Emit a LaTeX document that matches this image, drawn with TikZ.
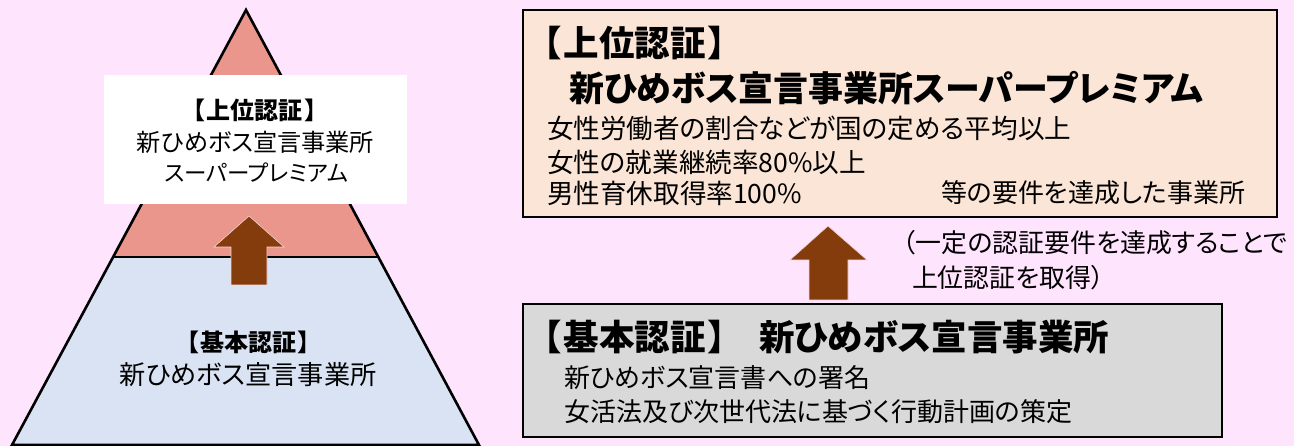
\documentclass[tikz,border=0pt]{standalone}
\usepackage{fontspec}
\setmainfont{Noto Sans CJK JP}[RawFeature=+palt]
\definecolor{bgpink}{HTML}{FFE4FE}
\definecolor{pyrtop}{HTML}{EB968C}
\definecolor{pyrbot}{HTML}{DAE3F3}
\definecolor{peach}{HTML}{FBE5D6}
\definecolor{greybox}{HTML}{D9D9D9}
\definecolor{brownarrow}{HTML}{843C0C}
\newcommand{\fsz}[1]{\fontsize{#1}{#1}\selectfont}
\newcommand{\brk}[2]{【\kern#1pt#2\kern#1pt】}
\begin{document}
\begin{tikzpicture}[x=1pt,y=-1pt,
  boxstyle/.style={draw=black,line width=2.6pt,inner sep=0pt,outer sep=0pt},
  txt/.style={inner sep=0pt,outer sep=0pt,anchor=west,text=black},
  blockarrow/.style={fill=brownarrow,draw=pyrtop!40,line width=0.6pt},
  pyrline/.style={draw=black,line width=2.6pt,line join=miter}]
\useasboundingbox (0,0) rectangle (1294,446);
\fill[bgpink] (0,0) rectangle (1294,446);

% pyramid
\coordinate (apex) at (246,10);
\coordinate (bl) at (12,445);
\coordinate (br) at (479,445);
\coordinate (ml) at (113,257);
\coordinate (mr) at (378.5,257);
\fill[pyrtop] (apex) -- (mr) -- (ml) -- cycle;
\fill[pyrbot] (ml) -- (mr) -- (br) -- (bl) -- cycle;
\draw[pyrline] (apex) -- (br) -- (bl) -- cycle;
\draw[pyrline] (ml) -- (mr);

% white label box on pyramid
\node[fill=white,inner sep=0pt,minimum width=303pt,minimum height=129pt] (wbox) at (255.5,139.5) {};
\node[txt,anchor=center,font=\fsz{24}\bfseries] (wt1) at (255,110) {\brk{2}{上位認証}};
\node[txt,anchor=center,font=\fsz{24.2}] (wt2) at (255.5,142) {新ひめボス宣言事業所};
\node[txt,anchor=center,font=\fsz{22.5}] (wt3) at (256,173) {スーパープレミアム};

% pyramid base text
\node[txt,anchor=center,font=\fsz{24}\bfseries] (bt1) at (248.5,342) {\brk{2}{基本認証}};
\node[txt,anchor=center,font=\fsz{26.2}] (bt2) at (248,375) {新ひめボス宣言事業所};

% small arrow
\coordinate (sa1) at (249,216);
\fill[blockarrow] (sa1) -- (284,247) -- (267,247) -- (267,285) -- (231,285) -- (231,247) -- (214,247) -- cycle;

% top right box
\node[boxstyle,fill=peach,minimum width=754pt,minimum height=207pt] (topbox) at (900,113.5) {};
\node[txt,font=\fsz{35.5}\bfseries] (tt1) at (543,43) {\brk{3}{上位認証}};
\node[txt,font=\fsz{34.9}\bfseries] (tt2) at (569,88) {新ひめボス宣言事業所スーパープレミアム};
\node[txt,font=\fsz{26.6}] (tl1) at (547,128) {女性労働者の割合などが国の定める平均以上};
\node[txt,font=\fsz{26.6}] (tl2) at (547,162) {女性の就業継続率80\%以上};
\node[txt,font=\fsz{26.6}] (tl3) at (547,193) {男性育休取得率100\%};
\node[txt,anchor=east,font=\fsz{26}] (tl4) at (1245,193) {等の要件を達成した事業所};

% big arrow
\coordinate (ba1) at (828,226);
\fill[blockarrow] (ba1) -- (867,260) -- (848,260) -- (848,300) -- (809,300) -- (809,260) -- (790,260) -- cycle;

% note
\node[txt,font=\fsz{25.9}] (n1) at (903,243) {（一定の認証要件を達成することで};
\node[txt,font=\fsz{25.9}] (n2) at (912,278) {上位認証を取得）};

% base box
\node[boxstyle,fill=greybox,minimum width=699pt,minimum height=133pt] (basebox) at (872.5,370.5) {};
\node[txt,font=\fsz{35.5}\bfseries] (gb1a) at (543,337) {\brk{3}{基本認証}};
\node[txt,font=\fsz{35.5}\bfseries] (gb1b) at (759,337) {新ひめボス宣言事業所};
\node[txt,font=\fsz{26}] (gb2) at (564,378) {新ひめボス宣言書への署名};
\node[txt,font=\fsz{26}] (gb3) at (564,412) {女活法及び次世代法に基づく行動計画の策定};
\end{tikzpicture}
\end{document}
